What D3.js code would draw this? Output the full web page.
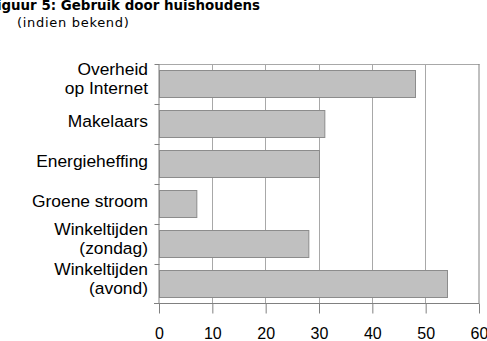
<!DOCTYPE html>
<html lang="nl">
<head>
<meta charset="utf-8">
<style>
  body { margin: 0; background: #fff; }
  svg { display: block; }
</style>
</head>
<body>
<div id="chart"></div>
<script src="https://d3js.org/d3.v7.min.js"></script>
<script>
// data
var categories = ["Overheid|op Internet", "Makelaars", "Energieheffing", "Groene stroom",
                  "Winkeltijden|(zondag)", "Winkeltijden|(avond)"];
var values = [48, 31, 30, 7, 28, 54];
var xTicks = [0, 10, 20, 30, 40, 50, 60];

var width = 487, height = 341;
var plotLeft = 159.5, plotRight = 479.5, plotTop = 64, plotBottom = 303.5;

var svg = d3.select("#chart").append("svg")
  .attr("width", width)
  .attr("height", height);

var x = d3.scaleLinear().domain([0, 60]).range([plotLeft, plotRight]);
var y = d3.scaleBand().domain(categories).range([plotTop, plotBottom])
  .paddingInner(0.32).paddingOuter(0.16);

// title (starts left of the page edge, as in the original)
svg.append("text")
  .attr("x", 260).attr("y", 10)
  .attr("text-anchor", "end")
  .style("font-family", "DejaVu Sans")
  .style("font-weight", "bold")
  .style("font-size", "13.4px")
  .text("Figuur 5: Gebruik door huishoudens");
svg.append("text")
  .attr("x", 17).attr("y", 27)
  .style("font-family", "DejaVu Sans")
  .style("font-size", "13px")
  .style("letter-spacing", "0.7px")
  .text("(indien bekend)");

// gridlines
svg.append("g").selectAll("line")
  .data(xTicks.slice(1, -1))
  .join("line")
    .attr("x1", d => Math.round(x(d)) - 0.5).attr("x2", d => Math.round(x(d)) - 0.5)
    .attr("y1", plotTop).attr("y2", plotBottom)
    .attr("stroke", "#a8a8a8");

// top and right border
svg.append("line")
  .attr("x1", plotLeft).attr("x2", plotRight).attr("y1", plotTop + 0.5).attr("y2", plotTop + 0.5)
  .attr("stroke", "#a8a8a8");
svg.append("line")
  .attr("x1", plotRight - 0.5).attr("x2", plotRight - 0.5).attr("y1", plotTop).attr("y2", plotBottom)
  .attr("stroke", "#808080");

// bars
svg.append("g").selectAll("rect")
  .data(values)
  .join("rect")
    .attr("x", x(0))
    .attr("y", (d, i) => Math.round(y(categories[i])) + 0.5)
    .attr("width", d => x(d) - x(0))
    .attr("height", Math.round(y.bandwidth()))
    .attr("fill", "#c0c0c0")
    .attr("stroke", "#8c8c8c");

// x axis
var xAxis = svg.append("g")
  .attr("transform", "translate(-0.5," + plotBottom + ")")
  .call(d3.axisBottom(x).tickValues(xTicks).tickSize(10).tickPadding(14).tickSizeOuter(0));
xAxis.select(".domain").attr("d", "M" + (plotLeft - 5) + ",0H" + plotRight).attr("stroke", "#808080");
xAxis.selectAll(".tick line").attr("stroke", "#808080");
xAxis.selectAll("text")
  .style("font-family", "Liberation Sans, Arial, sans-serif")
  .style("font-size", "16px")
  .attr("fill", "#000");

// y axis line and ticks at band edges
svg.append("line")
  .attr("x1", plotLeft - 0.5).attr("x2", plotLeft - 0.5).attr("y1", plotTop).attr("y2", plotBottom)
  .attr("stroke", "#808080");
var edges = d3.range(categories.length).map(i => plotTop + i * (plotBottom - plotTop) / categories.length);
svg.append("g").selectAll("line")
  .data(edges)
  .join("line")
    .attr("x1", plotLeft - 5).attr("x2", plotLeft)
    .attr("y1", d => Math.round(d) + 0.5).attr("y2", d => Math.round(d) + 0.5)
    .attr("stroke", "#808080");

// category labels
var labels = svg.append("g")
  .style("font-family", "Liberation Sans, Arial, sans-serif")
  .style("font-size", "17.4px")
  .attr("text-anchor", "end");
categories.forEach(function (c) {
  var lines = c.split("|");
  var cy = y(c) + y.bandwidth() / 2;
  var t = labels.append("text").attr("x", 148);
  if (lines.length === 1) {
    t.attr("y", cy + 3).text(lines[0]);
  } else {
    lines.forEach(function (l, k) {
      t.append("tspan").attr("x", 148).attr("y", cy - 8.5 + k * 18.5).text(l);
    });
  }
});
</script>
</body>
</html>
